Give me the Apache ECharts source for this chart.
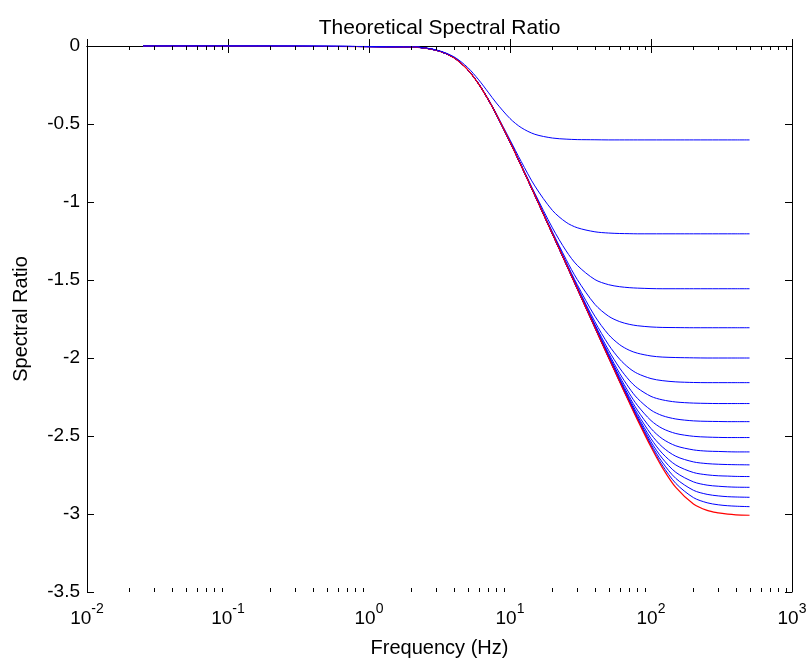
<!DOCTYPE html>
<html><head><meta charset="utf-8">
<script src="https://cdn.jsdelivr.net/npm/echarts@6/dist/echarts.min.js"></script>
<style>html,body{margin:0;padding:0;background:#fff}#c{width:811px;height:663px}</style>
</head><body><div id="c"></div>
<script>
// Frequencies (Hz) at which the curves were read
const freq = [0.025, 2, 3, 4, 5, 6, 7, 8, 10, 12, 15, 20, 25, 30, 40, 50, 60, 70, 80, 100, 120, 150, 200, 250, 300, 350, 400, 500];

// Red curve (lowest, plateau ~ -3.0)
const redCurve = [0, -0.006, -0.027, -0.075, -0.151, -0.244, -0.343, -0.439, -0.615, -0.767, -0.957, -1.205, -1.398, -1.556, -1.805, -1.998, -2.154, -2.284, -2.395, -2.571, -2.701, -2.830, -2.936, -2.977, -2.993, -3.001, -3.005, -3.008];

// Blue curves, from the highest plateau to the lowest
const blue01 = [0, -0.005, -0.025, -0.069, -0.137, -0.217, -0.296, -0.365, -0.465, -0.523, -0.566, -0.590, -0.597, -0.600, -0.601, -0.602, -0.602, -0.602, -0.602, -0.602, -0.602, -0.602, -0.602, -0.602, -0.602, -0.602, -0.602, -0.602];
const blue02 = [0, -0.006, -0.027, -0.075, -0.151, -0.242, -0.339, -0.434, -0.602, -0.740, -0.897, -1.054, -1.130, -1.165, -1.191, -1.199, -1.202, -1.203, -1.204, -1.204, -1.204, -1.204, -1.204, -1.204, -1.204, -1.204, -1.204, -1.204];
const blue03 = [0, -0.006, -0.027, -0.075, -0.151, -0.244, -0.342, -0.438, -0.613, -0.761, -0.944, -1.166, -1.313, -1.406, -1.497, -1.530, -1.543, -1.549, -1.552, -1.555, -1.556, -1.556, -1.556, -1.556, -1.556, -1.556, -1.556, -1.556];
const blue04 = [0, -0.006, -0.027, -0.075, -0.151, -0.244, -0.343, -0.439, -0.614, -0.765, -0.953, -1.192, -1.368, -1.497, -1.656, -1.732, -1.767, -1.784, -1.793, -1.801, -1.804, -1.805, -1.806, -1.806, -1.806, -1.806, -1.806, -1.806];
const blue05 = [0, -0.006, -0.027, -0.075, -0.151, -0.244, -0.343, -0.439, -0.615, -0.766, -0.955, -1.199, -1.385, -1.530, -1.732, -1.850, -1.915, -1.950, -1.969, -1.987, -1.994, -1.997, -1.999, -2.000, -2.000, -2.000, -2.000, -2.000];
const blue06 = [0, -0.006, -0.027, -0.075, -0.151, -0.244, -0.343, -0.439, -0.615, -0.767, -0.956, -1.202, -1.392, -1.543, -1.767, -1.915, -2.008, -2.065, -2.099, -2.132, -2.145, -2.153, -2.157, -2.158, -2.158, -2.158, -2.158, -2.158];
const blue07 = [0, -0.006, -0.027, -0.075, -0.151, -0.244, -0.343, -0.439, -0.615, -0.767, -0.956, -1.203, -1.395, -1.549, -1.784, -1.950, -2.065, -2.142, -2.192, -2.246, -2.268, -2.282, -2.289, -2.291, -2.292, -2.292, -2.292, -2.292];
const blue08 = [0, -0.006, -0.027, -0.075, -0.151, -0.244, -0.343, -0.439, -0.615, -0.767, -0.957, -1.204, -1.396, -1.552, -1.793, -1.969, -2.099, -2.192, -2.258, -2.334, -2.369, -2.391, -2.403, -2.406, -2.407, -2.408, -2.408, -2.408];
const blue09 = [0, -0.006, -0.027, -0.075, -0.151, -0.244, -0.343, -0.439, -0.615, -0.767, -0.957, -1.205, -1.397, -1.554, -1.798, -1.980, -2.119, -2.225, -2.303, -2.401, -2.451, -2.484, -2.502, -2.507, -2.509, -2.510, -2.510, -2.510];
const blue10 = [0, -0.006, -0.027, -0.075, -0.151, -0.244, -0.343, -0.439, -0.615, -0.767, -0.957, -1.205, -1.398, -1.555, -1.801, -1.987, -2.132, -2.246, -2.334, -2.452, -2.517, -2.563, -2.589, -2.597, -2.599, -2.601, -2.602, -2.602];
const blue11 = [0, -0.006, -0.027, -0.075, -0.151, -0.244, -0.343, -0.439, -0.615, -0.767, -0.957, -1.205, -1.398, -1.555, -1.802, -1.991, -2.140, -2.259, -2.355, -2.489, -2.569, -2.630, -2.666, -2.677, -2.681, -2.683, -2.684, -2.685];
const blue12 = [0, -0.006, -0.027, -0.075, -0.151, -0.244, -0.343, -0.439, -0.615, -0.767, -0.957, -1.205, -1.398, -1.556, -1.803, -1.994, -2.145, -2.269, -2.369, -2.517, -2.610, -2.686, -2.734, -2.749, -2.755, -2.757, -2.759, -2.760];
const blue13 = [0, -0.006, -0.027, -0.075, -0.151, -0.244, -0.343, -0.439, -0.615, -0.767, -0.957, -1.205, -1.398, -1.557, -1.804, -1.995, -2.149, -2.275, -2.379, -2.537, -2.642, -2.733, -2.794, -2.815, -2.822, -2.826, -2.828, -2.829];
const blue14 = [0, -0.006, -0.027, -0.075, -0.151, -0.244, -0.343, -0.439, -0.615, -0.767, -0.957, -1.205, -1.398, -1.557, -1.806, -1.997, -2.151, -2.279, -2.386, -2.552, -2.667, -2.772, -2.848, -2.874, -2.884, -2.889, -2.891, -2.893];
const blue15 = [0, -0.006, -0.027, -0.075, -0.151, -0.244, -0.343, -0.439, -0.615, -0.767, -0.957, -1.205, -1.398, -1.557, -1.806, -1.997, -2.153, -2.282, -2.391, -2.563, -2.686, -2.804, -2.895, -2.928, -2.941, -2.947, -2.950, -2.953];

const blueCurves = [blue01, blue02, blue03, blue04, blue05, blue06, blue07, blue08, blue09, blue10, blue11, blue12, blue13, blue14, blue15];

// Axis ticks
const xMinorTicks = [0.02,0.03,0.04,0.05,0.06,0.07,0.08,0.09, 0.2,0.3,0.4,0.5,0.6,0.7,0.8,0.9, 2,3,4,5,6,7,8,9, 20,30,40,50,60,70,80,90, 200,300,400,500,600,700,800,900];
const xMin = 0.01, xMax = 1000;
const yMin = -3.5, yMax = 0, yStep = 0.5;

const titleText = 'Theoretical Spectral Ratio';
const xName = 'Frequency (Hz)';
const yName = 'Spectral Ratio';

const FONT = '"Liberation Sans", Arial, Helvetica, sans-serif';
const FS_TICK = 19, FS_NAME = 20, FS_TITLE = 21;

function pairs(vals) { return freq.map((f, i) => [f, vals[i]]); }

const series = [];
// red sits above the lower blue curves, the top blue curve is drawn over it
series.push({
  type: 'line', data: pairs(redCurve), showSymbol: false, symbol: 'none', smooth: 0.3,
  lineStyle: { color: '#ff0000', width: 1.2 }, z: 3, silent: true
});
blueCurves.forEach((c, i) => series.push({
  type: 'line', data: pairs(c), showSymbol: false, symbol: 'none', smooth: 0.3,
  lineStyle: { color: '#0000ff', width: 1 }, z: i === 0 ? 4 : 2, silent: true
}));
series.push({
  type: 'custom', silent: true, z: 10, clip: false,
  data: xMinorTicks.map(v => [v, yMin]),
  renderItem: function (params, api) {
    const pb = api.coord([api.value(0), yMin]);
    const pt = api.coord([api.value(0), yMax]);
    const x = Math.round(pb[0]) + 0.5;
    return { type: 'group', children: [
      { type: 'line', shape: { x1: x, y1: pb[1], x2: x, y2: pb[1] - 4 }, style: { stroke: '#000', lineWidth: 1 } },
      { type: 'line', shape: { x1: x, y1: pt[1], x2: x, y2: pt[1] + 4 }, style: { stroke: '#000', lineWidth: 1 } }
    ]};
  }
});

const axisLineStyle = { show: true, lineStyle: { color: '#000', width: 1 } };
const tickStyle = { show: true, inside: true, length: 7, lineStyle: { color: '#000', width: 1 } };

const option = {
  animation: false,
  backgroundColor: '#ffffff',
  grid: { left: 87, right: 19, top: 46, bottom: 62, containLabel: false },
  graphic: [{
    type: 'text', x: 439.5, y: 28, silent: true,
    style: { text: titleText, fill: '#000', font: FS_TITLE + 'px ' + FONT, textAlign: 'center', textVerticalAlign: 'middle', align: 'center', verticalAlign: 'middle' }
  }],
  xAxis: [{
    type: 'log', logBase: 10, min: xMin, max: xMax, position: 'bottom',
    axisLine: axisLineStyle, axisTick: tickStyle, splitLine: { show: false },
    name: xName, nameLocation: 'middle', nameGap: 46,
    nameTextStyle: { color: '#000', fontSize: FS_NAME, fontFamily: FONT },
    axisLabel: {
      margin: 6, color: '#000',
      formatter: function (v) { const e = Math.round(Math.log10(v)); return '{b|10}{e|' + e + '}'; },
      rich: {
        b: { fontSize: FS_TICK, fontFamily: FONT, color: '#000', lineHeight: 30, verticalAlign: 'bottom' },
        e: { fontSize: 14, fontFamily: FONT, color: '#000', verticalAlign: 'top', padding: [4, 0, 0, 0] }
      }
    }
  }, {
    type: 'log', logBase: 10, min: xMin, max: xMax, position: 'top',
    axisLine: axisLineStyle, axisTick: tickStyle, axisLabel: { show: false }, splitLine: { show: false }
  }],
  yAxis: [{
    type: 'value', min: yMin, max: yMax, interval: yStep, position: 'left',
    axisLine: axisLineStyle, axisTick: tickStyle, splitLine: { show: false },
    axisLabel: { margin: 7, color: '#000', fontSize: FS_TICK, fontFamily: FONT },
    name: yName, nameLocation: 'middle', nameGap: 56, nameRotate: 90,
    nameTextStyle: { color: '#000', fontSize: FS_NAME, fontFamily: FONT }
  }, {
    type: 'value', min: yMin, max: yMax, interval: yStep, position: 'right',
    axisLine: axisLineStyle, axisTick: tickStyle, axisLabel: { show: false }, splitLine: { show: false }
  }],
  series: series
};

const chart = echarts.init(document.getElementById('c'), null, { renderer: 'canvas' });
chart.setOption(option);
</script>
</body></html>
